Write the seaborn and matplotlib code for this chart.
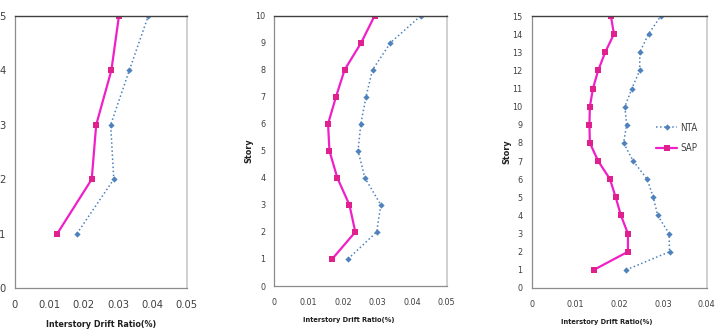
import numpy as np
import pandas as pd
import matplotlib
matplotlib.use('Agg')
import matplotlib.pyplot as plt
from matplotlib import font_manager
import seaborn as sns

# 5 story building
stories_5 = [1, 2, 3, 4, 5]
sap_5 = [0.0124, 0.0224, 0.0237, 0.0281, 0.0303]
nta_5 = [0.0181, 0.0288, 0.0279, 0.0333, 0.0388]

# 10 story building
stories_10 = [1, 2, 3, 4, 5, 6, 7, 8, 9, 10]
sap_10 = [0.0168, 0.0235, 0.0218, 0.0183, 0.0160, 0.0156, 0.0179, 0.0204, 0.0252, 0.0291]
nta_10 = [0.0214, 0.0297, 0.0309, 0.0263, 0.0243, 0.0251, 0.0266, 0.0285, 0.0337, 0.0425]

# 15 story building
stories_15 = list(range(1, 16))
sap_15 = [0.0142, 0.0220, 0.0220, 0.0204, 0.0192, 0.0179, 0.0152, 0.0133, 0.0132, 0.0133,
          0.0140, 0.0152, 0.0168, 0.0188, 0.0181]
nta_15 = [0.0216, 0.0315, 0.0314, 0.0288, 0.0278, 0.0264, 0.0232, 0.0210, 0.0217, 0.0213,
          0.0229, 0.0247, 0.0247, 0.0267, 0.0295]

xlabel = 'Interstory Drift Ratio(%)'
sap_color = '#F020C8'
sap_marker = '#E0208C'
nta_color = '#4F81BD'

sns.set_style('white')

# look for a narrow font (Calibri-like look), fall back to Liberation Sans
narrow_family = None
narrow_stretch = 'normal'
for f in font_manager.fontManager.ttflist:
    fn = f.fname.lower()
    if 'narrow' in fn or 'condensed' in fn:
        narrow_family = f.name
        narrow_stretch = f.stretch
        break
if narrow_family:
    plt.rcParams['font.family'] = [narrow_family, 'Liberation Sans', 'DejaVu Sans']
    plt.rcParams['font.stretch'] = narrow_stretch
else:
    plt.rcParams['font.family'] = ['Liberation Sans', 'DejaVu Sans']

fig = plt.figure(figsize=(7.15, 3.3), dpi=100)

panels = [
    # stories, sap, nta, xmax, xticks, rect, show ylabel, tick size, label size, label x
    (stories_5, sap_5, nta_5, 0.05, [0, 0.01, 0.02, 0.03, 0.04, 0.05],
     [0.0203, 0.127, 0.241, 0.8245], False, 8, 6.4, 0.50),
    (stories_10, sap_10, nta_10, 0.05, [0, 0.01, 0.02, 0.03, 0.04, 0.05],
     [0.3836, 0.1333, 0.2411, 0.819], True, 6.5, 5.3, 0.433),
    (stories_15, sap_15, nta_15, 0.04, [0, 0.01, 0.02, 0.03, 0.04],
     [0.7436, 0.1273, 0.2448, 0.8242], True, 6.5, 5.3, 0.43),
]

for i, (st, sap, nta, xmax, xt, rect, show_y, fs, lfs, lx) in enumerate(panels):
    ax = fig.add_axes(rect)
    df = pd.DataFrame({'Story': st, 'NTA': nta, 'SAP': sap})
    sns.lineplot(data=df, x='NTA', y='Story', sort=False, estimator=None, ax=ax,
                 color=nta_color, linestyle=':', linewidth=1.1, marker='D',
                 markersize=3.2, markeredgewidth=0, label='NTA')
    sns.lineplot(data=df, x='SAP', y='Story', sort=False, estimator=None, ax=ax,
                 color=sap_color, linewidth=1.6, marker='s', markersize=4.5,
                 markerfacecolor=sap_marker, markeredgewidth=0, label='SAP')
    ax.set_xlim(0, xmax)
    ax.set_ylim(0, max(st))
    ax.set_xticks(xt)
    ax.set_xticklabels(['0'] + [f'{v:g}' for v in xt[1:]])
    ax.set_yticks(range(0, max(st) + 1))
    ax.tick_params(axis='both', direction='out', length=3.5, width=0.8,
                   color='#8c8c8c', labelcolor='#404040', labelsize=fs, pad=3)
    ax.tick_params(axis='x', pad=5)
    for side in ['left', 'bottom']:
        ax.spines[side].set_color('#8c8c8c')
        ax.spines[side].set_linewidth(0.9)
    ax.spines['top'].set_color('#404040')
    ax.spines['top'].set_linewidth(1.0)
    ax.spines['right'].set_color('#c8c8c8')
    ax.spines['right'].set_linewidth(1.2)
    ax.set_xlabel(xlabel, fontsize=lfs, fontweight='bold', color='#202020',
                  labelpad=7)
    ax.xaxis.label.set_x(lx)
    if show_y:
        ax.set_ylabel('Story', fontsize=6.5, fontweight='bold', color='#202020',
                      labelpad=1)
    else:
        ax.set_ylabel('')
    if i == 2:
        ax.legend(loc='upper left', bbox_to_anchor=(0.66, 0.64), frameon=False,
                  fontsize=7, handlelength=2.2, labelspacing=1.1,
                  handletextpad=0.3, labelcolor='#404040')
    else:
        ax.get_legend().remove()

fig.savefig('out.png', dpi=100)
